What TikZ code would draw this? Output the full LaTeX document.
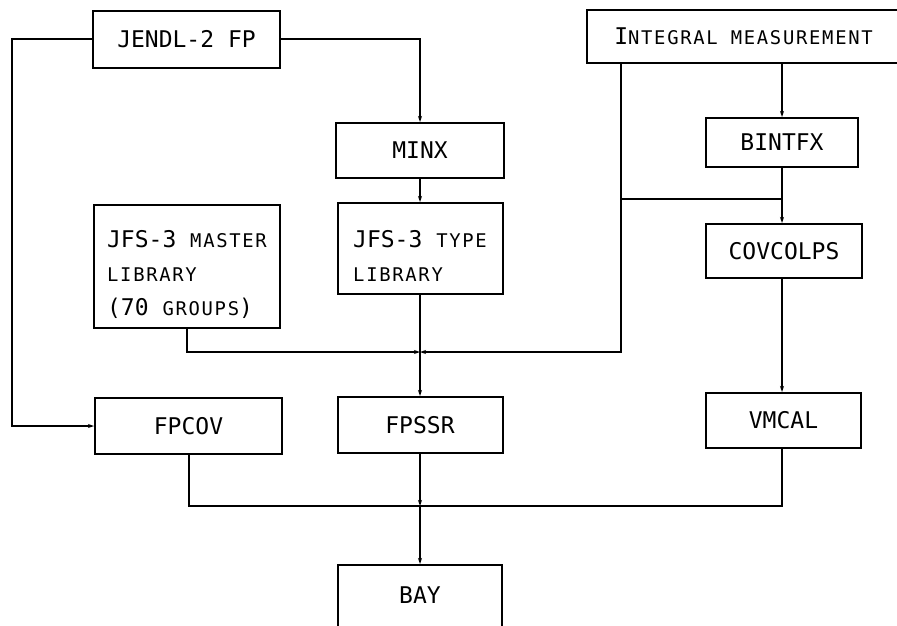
\documentclass[tikz,border=0pt]{standalone}
\usepackage{fontspec}
\newfontfamily\lett{DejaVu Sans Mono}
\newfontfamily\lettsc[Scale=0.82,LetterSpace=9]{DejaVu Sans Mono}
\newcommand{\sm}[1]{{\lettsc #1}}
\usetikzlibrary{arrows.meta}
\begin{document}
\begin{tikzpicture}[x=1pt, y=-1pt, >={Stealth[length=6pt,width=4pt]}, line width=2pt,
		font=\fontsize{23}{34}\selectfont\lett,
		box/.style={draw, inner sep=0pt, align=left}]
		\useasboundingbox (0,0) rectangle (897,625);
		
		% boxes
		\node[box, minimum width=187pt, minimum height=57pt] (jendl) at (186.5,39) {JENDL-2 FP};
		\node[box, minimum width=313pt, minimum height=53pt] (integ) at (743.5,36.5) {I\sm{NTEGRAL MEASUREMENT}};
		\node[box, minimum width=168pt, minimum height=55pt] (minx) at (420,150.5) {MINX};
		\node[box, minimum width=165pt, minimum height=91pt] (type) at (420,248.5) {\rule{0pt}{31pt}JFS-3 \sm{TYPE}\\\sm{LIBRARY}};
		\node[box, minimum width=186pt, minimum height=123pt] (master) at (187,266.5) {\rule{0pt}{33pt}JFS-3 \sm{MASTER}\\\sm{LIBRARY}\\(70 \sm{GROUPS})};
		\node[box, minimum width=152pt, minimum height=49pt] (bintfx) at (782,142.5) {BINTFX};
		\node[box, minimum width=156pt, minimum height=54pt] (covcol) at (784,251) {COVCOLPS};
		\node[box, minimum width=155pt, minimum height=55pt] (vmcal) at (783.5,420.5) {VMCAL};
		\node[box, minimum width=187pt, minimum height=56pt] (fpcov) at (188.5,426) {FPCOV};
		\node[box, minimum width=165pt, minimum height=56pt] (fpssr) at (420,425) {FPSSR};
		\node[box, minimum width=164pt, minimum height=75pt, text depth=15pt] (bay) at (420,602.5) {BAY};
		
		% junctions
		\coordinate (jA) at (420,352);
		\coordinate (jB) at (420,506);
		\coordinate (iL) at (621,199);
		
		% connectors
		\draw[->] (jendl.west) -- ++(-80,0) |- (fpcov.west);
		\draw[->] (jendl.east) -| (minx.north);
		\draw[->] (minx) -- (type);
		\draw[->] (type.south) -- (fpssr.north);
		\draw[->] (master.south) |- (jA);
		\draw[->] (integ.south -| iL) |- (jA);
		\draw (iL) -- (iL -| bintfx);
		\draw[->] (integ.south -| bintfx) -- (bintfx.north);
		\draw[->] (bintfx.south) -- (bintfx.south |- covcol.north);
		\draw[->] (covcol.south -| bintfx) -- (vmcal.north -| bintfx);
		\draw (fpcov.south) |- (jB);
		\draw (vmcal.south -| bintfx) |- (jB);
		\draw[->] (fpssr.south) -- (jB);
		\draw[->] (jB) -- (bay.north);
	\end{tikzpicture}
\end{document}
